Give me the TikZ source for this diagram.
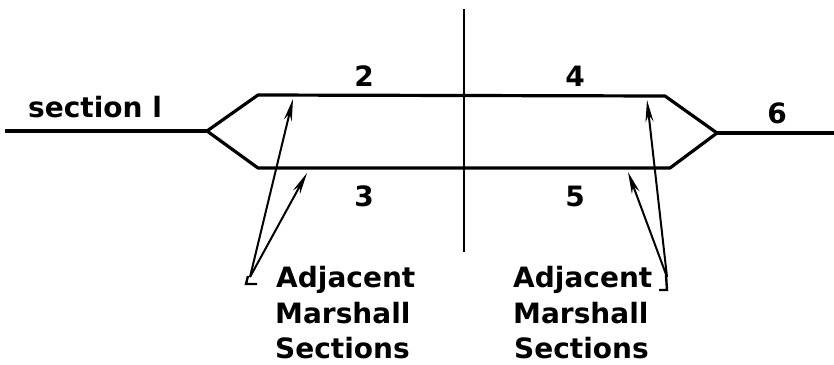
\documentclass[tikz,border=0pt]{standalone}
\usepackage{fontspec}
\setmainfont{DejaVu Sans}
\usetikzlibrary{arrows.meta}
\begin{document}
\begin{tikzpicture}[x=1pt,y=-1pt,
  main/.style={line width=3.2pt,line join=round},
  ptr/.style={line width=2pt,-{Stealth[length=22pt,width=8pt]}},
  hook/.style={line width=2.4pt},
  lbl/.style={inner sep=0pt,font=\fontsize{28}{32}\selectfont\bfseries},
  txt/.style={inner sep=0pt,anchor=base west,font=\fontsize{28}{32}\selectfont\bfseries}]
\useasboundingbox (0,0) rectangle (834,364);
% outline of the section pair
\coordinate (lend) at (5,131);
\coordinate (ltip) at (207,131);
\coordinate (tl) at (258,95);
\coordinate (bl) at (258,168);
\coordinate (tr) at (665,96);
\coordinate (br) at (670,168);
\coordinate (rtip) at (717,133);
\coordinate (rend) at (834,133);
\draw[main] (ltip) -- (tl) -- (tr) -- (rtip) -- (br) -- (bl) -- cycle;
\draw[main] (lend) -- (ltip);
\draw[main] (rtip) -- (rend);
% vertical divider
\coordinate (vtop) at (464,9);
\coordinate (vbot) at (464,252);
\draw[line width=2.4pt] (vtop) -- (vbot);
% labels
\node[lbl,anchor=base west] (s1) at (28,117) {section l};
\node[lbl] (n2) at (364,76) {2};
\node[lbl] (n4) at (575,76) {4};
\node[lbl] (n3) at (364,196) {3};
\node[lbl] (n5) at (575,196) {5};
\node[lbl] (n6) at (777,113) {6};
% left pointers
\coordinate (la) at (250,277);
\coordinate (lt1) at (293,99);
\coordinate (lt2) at (307,173);
\draw[ptr] (la) -- (lt1);
\draw[ptr] (la) -- (lt2);
\draw[hook] (248,276) -- (246,284) -- (257,284);
% right pointers
\coordinate (ra) at (667,277);
\coordinate (rt1) at (647,100);
\coordinate (rt2) at (628,172);
\draw[ptr] (ra) -- (rt1);
\draw[ptr] (ra) -- (rt2);
\draw[hook] (666,275) -- (667,290) -- (659,290);
% texts
\node[txt] (la1) at (276,287) {Adjacent};
\node[txt] (la2) at (275,323) {Marshall};
\node[txt] (la3) at (275,358) {Sections};
\node[txt] (ra1) at (513,287) {Adjacent};
\node[txt] (ra2) at (513,323) {Marshall};
\node[txt] (ra3) at (514,358) {Sections};
\end{tikzpicture}
\end{document}
